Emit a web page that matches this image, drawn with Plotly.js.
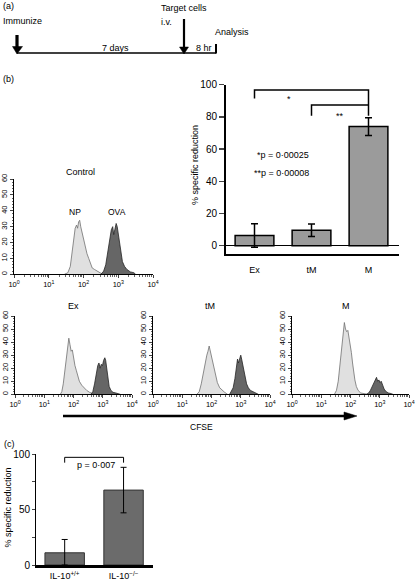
<!DOCTYPE html>
<html>
<head>
<meta charset="utf-8">
<script src="https://cdn.plot.ly/plotly-3.0.1.min.js"></script>
<style>html,body{margin:0;padding:0;background:#fff;}#chart{width:416px;height:583px;}</style>
</head>
<body>
<div id="chart"></div>
<script>
// ---------- data ----------
const barCats = ['Ex', 'tM', 'M'];
const barVals = [6.3, 9.6, 74];
const barErr = [7.3, 3.9, 5.5];

const il10Cats = ['IL-10<sup>+/+</sup>', 'IL-10<sup>\u2212/\u2212</sup>'];
const il10Vals = [11, 67.5];
const il10ErrUp = [12, 20.5];
const il10ErrDown = [11, 20.5];

const histTickVals = [1, 10, 100, 1000, 10000];
const histTickText = ['10<sup>0</sup>', '10<sup>1</sup>', '10<sup>2</sup>', '10<sup>3</sup>', '10<sup>4</sup>'];
const histYTicks = [0, 10, 20, 30, 40, 50, 60];

// histogram outlines: CFSE position in log10 decades, and event counts
const ctrlNpLog   = [1.45,1.55,1.62,1.68,1.72,1.76,1.80,1.83,1.86,1.89,1.92,1.95,1.98,2.02,2.06,2.10,2.15,2.20,2.25,2.32,2.40,2.50,2.55];
const ctrlNpCount = [0,1,5,14,22,29,31,29,33,34,30,27,25,20,17,13,10,7,4,3,2,0.5,0];
const ctrlOvaLog   = [2.50,2.58,2.64,2.70,2.75,2.80,2.84,2.87,2.90,2.94,2.97,3.00,3.04,3.08,3.12,3.18,3.25,3.35,3.45,3.50];
const ctrlOvaCount = [0,2,6,14,22,28,30,25,28,32,30,25,18,12,8,5,3,1.5,1,0];

const exNpLog   = [1.55,1.60,1.65,1.70,1.75,1.80,1.84,1.88,1.92,1.96,2.00,2.05,2.10,2.15,2.20,2.28,2.35,2.45,2.55,2.65,2.70];
const exNpCount = [0,2,8,17,27,36,43,38,33,34,28,22,18,13,10,7,5,3,1.5,0.5,0];
const exOvaLog   = [2.60,2.66,2.72,2.78,2.83,2.87,2.91,2.95,2.99,3.03,3.07,3.10,3.14,3.18,3.22,3.28,3.35,3.45,3.55,3.60];
const exOvaCount = [0,2,8,16,22,24,20,23,22,26,28,26,20,12,6,3,1.5,1,0.5,0];

const tmNpLog   = [1.50,1.58,1.65,1.72,1.78,1.84,1.88,1.92,1.95,1.99,2.03,2.08,2.14,2.20,2.28,2.36,2.45,2.52,2.55];
const tmNpCount = [0,2,8,17,25,30,33,37,34,30,26,21,14,9,5,3,1.5,0.5,0];
const tmOvaLog   = [2.62,2.68,2.74,2.80,2.85,2.89,2.92,2.96,3.00,3.03,3.07,3.11,3.15,3.20,3.26,3.33,3.42,3.52,3.60];
const tmOvaCount = [0,2,5,12,22,27,24,28,30,27,22,17,12,8,5,3,2,1,0];

const mNpLog   = [1.45,1.52,1.58,1.64,1.70,1.75,1.79,1.83,1.87,1.91,1.95,1.99,2.03,2.07,2.11,2.15,2.20,2.26,2.35,2.50,2.60];
const mNpCount = [0,3,10,22,38,48,55,50,48,49,44,38,32,24,17,11,6,3,1,0.5,0];
const mOvaLog   = [2.55,2.62,2.68,2.74,2.80,2.85,2.89,2.93,2.97,3.01,3.05,3.10,3.15,3.22,3.30,3.40,3.45];
const mOvaCount = [0,1,3,6,9,12,13,10,11,9,10,7,4,2,1,0.5,0];

// ---------- helpers ----------
const W = 416, H = 583;
const fx = p => p / W;
const fy = p => 1 - p / H;
const FONT = 'Liberation Sans, Arial, sans-serif';
const toLin = arr => arr.map(d => Math.pow(10, d));
const LIGHT_FILL = '#e0e0e0', LIGHT_LINE = '#707070';
const DARK_FILL = '#666666', DARK_LINE = '#262626';

function histPair(npLog, npCnt, ovaLog, ovaCnt, n) {
  const xa = 'x' + n, ya = 'y' + n;
  return [
    {type: 'scatter', mode: 'lines', x: toLin(npLog), y: npCnt, xaxis: xa, yaxis: ya,
     fill: 'tozeroy', fillcolor: LIGHT_FILL, line: {color: LIGHT_LINE, width: 0.8}},
    {type: 'scatter', mode: 'lines', x: toLin(ovaLog), y: ovaCnt, xaxis: xa, yaxis: ya,
     fill: 'tozeroy', fillcolor: DARK_FILL, line: {color: DARK_LINE, width: 0.8}}
  ];
}

const minorLog = [];
for (let k = 0; k < 4; k++) for (let m = 2; m <= 9; m++) minorLog.push(m * Math.pow(10, k));

const hxf = {size: 7.5, family: FONT, color: '#000'};
const hyf = {size: 7.5, family: FONT, color: '#000'};
function histX(x0, x1) {
  return {domain: [fx(x0), fx(x1)], type: 'log', range: [0, 4],
    tickvals: histTickVals, ticktext: histTickText, ticks: 'outside', ticklen: 3, tickwidth: 1,
    showline: true, linecolor: '#000', linewidth: 1, showgrid: false, zeroline: false,
    tickfont: hxf,
    minor: {tickvals: minorLog, ticks: 'outside', ticklen: 2, tickwidth: 0.6, tickcolor: '#000', showgrid: false}};
}
function histY(yb, yt) {
  return {domain: [fy(yb), fy(yt)], range: [0, 60], tickvals: histYTicks, tickangle: -90,
    ticks: 'outside', ticklen: 3, tickwidth: 1, showline: true, linecolor: '#000', linewidth: 1,
    showgrid: false, zeroline: false, tickfont: hyf,
    minor: {dtick: 2, ticks: 'outside', ticklen: 1.5, tickwidth: 0.6, tickcolor: '#000', showgrid: false}};
}

// ---------- traces ----------
const traces = [
  {type: 'bar', x: barCats, y: barVals, xaxis: 'x', yaxis: 'y', width: 0.68,
   marker: {color: '#9b9b9b', line: {color: '#000', width: 1.5}},
   error_y: {type: 'data', array: barErr, visible: true, color: '#000', thickness: 1.5, width: 3.5}},
  ...histPair(ctrlNpLog, ctrlNpCount, ctrlOvaLog, ctrlOvaCount, 2),
  ...histPair(exNpLog, exNpCount, exOvaLog, exOvaCount, 3),
  ...histPair(tmNpLog, tmNpCount, tmOvaLog, tmOvaCount, 4),
  ...histPair(mNpLog, mNpCount, mOvaLog, mOvaCount, 5),
  {type: 'bar', x: il10Cats, y: il10Vals, xaxis: 'x6', yaxis: 'y6', width: 0.67,
   marker: {color: '#6b6b6b', line: {color: '#333', width: 1}},
   error_y: {type: 'data', array: il10ErrUp, arrayminus: il10ErrDown, visible: true, color: '#000', thickness: 1, width: 3}}
];

// ---------- shapes ----------
const P = {xref: 'paper', yref: 'paper'};
const line = (x0, y0, x1, y1, w) => Object.assign({type: 'line', x0: fx(x0), y0: fy(y0), x1: fx(x1), y1: fy(y1), line: {color: '#000', width: w}}, P);
const tri = pts => Object.assign({type: 'path', path: 'M' + pts.map(p => fx(p[0]) + ',' + fy(p[1])).join(' L') + ' Z',
  fillcolor: '#000', line: {color: '#000', width: 0.5}}, P);

const shapes = [
  // timeline (a)
  line(17, 53, 216, 53, 1.5),
  line(216, 44, 216, 53.5, 2),
  line(17, 35, 17, 48, 3.2),
  tri([[12.5, 46.5], [22.5, 46.5], [17, 54]]),
  line(184, 19, 184, 48, 2.2),
  tri([[179.5, 47], [188.5, 47], [184, 54]]),
  // CFSE arrow
  line(63, 416, 348, 416, 2.5),
  tri([[344, 412], [357, 416], [344, 420]]),
  // (b) brackets
  {type: 'path', xref: 'x', yref: 'y', path: 'M0,91.5 L0,96.7 L2,96.7 L2,80.7', line: {color: '#000', width: 1.5}},
  {type: 'path', xref: 'x', yref: 'y', path: 'M1,80.7 L1,87.4 L2,87.4', line: {color: '#000', width: 1.5}},
  // (c) bracket
  {type: 'path', xref: 'x6', yref: 'y6', path: 'M0,92.2 L0,97 L1,97 L1,92.2', line: {color: '#000', width: 1}}
];

// ---------- annotations ----------
const txt = (x, y, t, anchor, size, extra) => Object.assign({xref: 'paper', yref: 'paper', x: fx(x), y: fy(y), text: t,
  showarrow: false, xanchor: anchor || 'left', yanchor: 'middle', font: {size: size || 9, family: FONT, color: '#000'}}, extra || {});
const dtxt = (xr, yr, x, y, t, anchor, size) => ({xref: xr, yref: yr, x: x, y: y, text: t, showarrow: false,
  xanchor: anchor, yanchor: 'middle', font: {size: size || 9, family: FONT, color: '#000'}});

const annotations = [
  txt(1, 6, '(a)'),
  txt(1, 21, 'Immunize'),
  txt(159, 8, 'Target cells'),
  txt(159, 22, 'i.v.'),
  txt(213, 32, 'Analysis'),
  txt(115, 48, '7 days', 'center'),
  txt(204, 48, '8 hr', 'center'),
  txt(1, 79, '(b)'),
  txt(195, 165, '% specific reduction', 'center', 9, {textangle: -90}),
  dtxt('x', 'y', 0.61, 91.3, '*', 'center'),
  dtxt('x', 'y', 1.5, 80.5, '**', 'center'),
  dtxt('x', 'y', 0.99, 56.3, '*p = 0\u00b700025', 'right'),
  dtxt('x', 'y', 0.99, 45, '**p = 0\u00b700008', 'right'),
  txt(80, 172, 'Control', 'center', 9),
  txt(74.5, 212.5, 'NP', 'center', 8.5),
  txt(117, 212.5, 'OVA', 'center', 8.5),
  txt(73, 306, 'Ex', 'center', 9),
  txt(210, 306, 'tM', 'center', 9),
  txt(346, 306, 'M', 'center', 9),
  txt(201, 427, 'CFSE', 'center', 8.5),
  txt(2, 444, '(c)'),
  txt(7.5, 508, '% specific reduction', 'center', 9, {textangle: -90}),
  dtxt('x6', 'y6', 0.53, 90, 'p = 0\u00b7007', 'center')
];

// ---------- layout ----------
const tf = {size: 9, family: FONT, color: '#000'};
const nf = {size: 10, family: FONT, color: '#000'};
const layout = {
  width: W, height: H, margin: {l: 0, r: 0, t: 0, b: 0},
  paper_bgcolor: '#fff', plot_bgcolor: 'rgba(0,0,0,0)', showlegend: false,
  font: {family: FONT, size: 9, color: '#000'},
  xaxis: {domain: [fx(226), fx(399)], type: 'category', range: [-0.5, 2.535], anchor: 'y',
    showline: true, linecolor: '#000', linewidth: 2, ticks: 'outside', ticklen: 6, tickcolor: 'rgba(0,0,0,0)',
    showgrid: false, zeroline: false, tickfont: tf},
  yaxis: {domain: [fy(254), fy(84.7)], range: [-5.2, 100], anchor: 'x', tickvals: [0, 20, 40, 60, 80, 100],
    showline: true, linecolor: '#000', linewidth: 2, ticks: 'outside', ticklen: 5, tickwidth: 1.5,
    showgrid: false, zeroline: true, zerolinecolor: '#000', zerolinewidth: 1.5, tickfont: nf},
  xaxis2: Object.assign(histX(14, 153), {anchor: 'y2'}),
  yaxis2: Object.assign(histY(274.3, 179), {anchor: 'x2'}),
  xaxis3: Object.assign(histX(15, 132), {anchor: 'y3'}),
  yaxis3: Object.assign(histY(394.3, 316), {anchor: 'x3'}),
  xaxis4: Object.assign(histX(153, 270), {anchor: 'y4'}),
  yaxis4: Object.assign(histY(394.3, 316), {anchor: 'x4'}),
  xaxis5: Object.assign(histX(292, 409), {anchor: 'y5'}),
  yaxis5: Object.assign(histY(394.3, 316), {anchor: 'x5'}),
  xaxis6: {domain: [fx(36), fx(153)], type: 'category', range: [-0.487, 1.5], anchor: 'y6',
    showline: true, linecolor: '#000', linewidth: 2.5, ticks: 'outside', ticklen: 1, tickcolor: 'rgba(0,0,0,0)',
    showgrid: false, zeroline: false, tickfont: tf},
  yaxis6: {domain: [fy(565), fy(454)], range: [0, 100], anchor: 'x6', tickvals: [0, 25, 50, 75, 100],
    ticktext: ['0', '', '50', '', '100'],
    showline: true, linecolor: '#000', linewidth: 1, ticks: 'outside', ticklen: 3, tickwidth: 1,
    showgrid: false, zeroline: false, tickfont: nf},
  shapes: shapes,
  annotations: annotations
};

Plotly.newPlot('chart', traces, layout, {staticPlot: true, displayModeBar: false});
</script>
</body>
</html>
